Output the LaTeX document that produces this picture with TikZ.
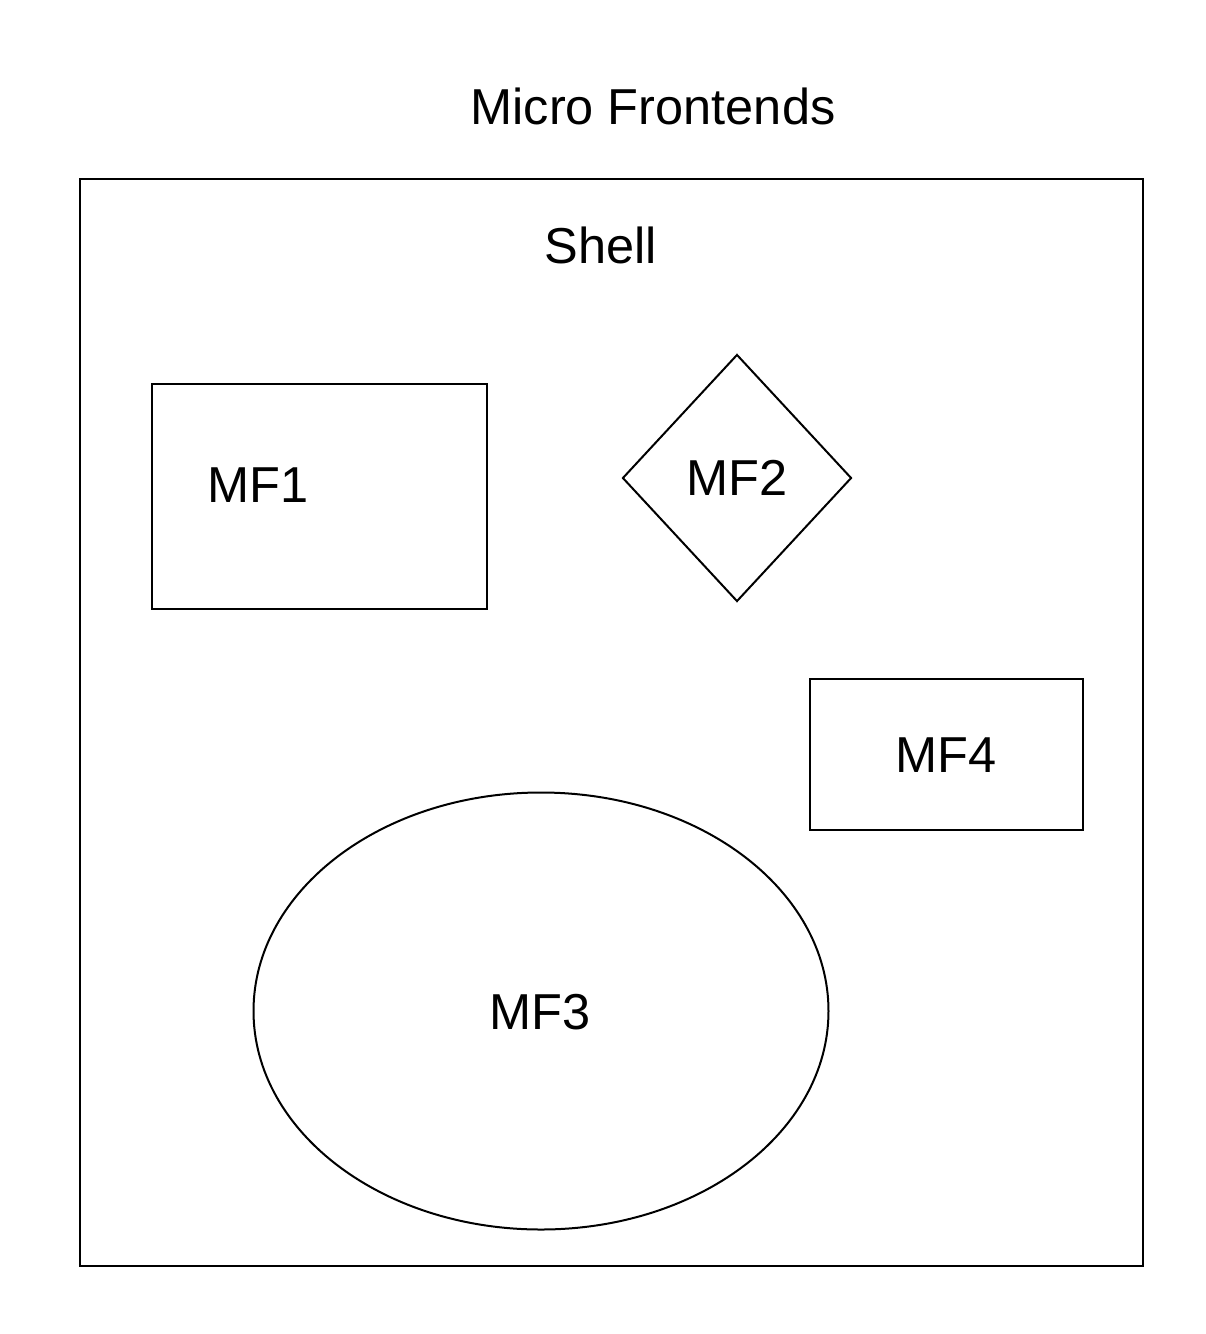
\documentclass[tikz,border=0pt]{standalone}
\usepackage{fontspec}
\setmainfont{Liberation Sans}
\usetikzlibrary{shapes.geometric}
\begin{document}
\begin{tikzpicture}[x=1pt,y=-1pt,
  shapeline/.style={draw=black,line width=2pt},
  lbl/.style={font=\fontsize{50.5}{58}\selectfont,inner sep=0pt}]
\useasboundingbox (0,0) rectangle (1206,1334);
\fill[white] (0,0) rectangle (1206,1334);
\node[lbl] (title) at (653,106) {Micro Frontends};
\node[shapeline,rectangle,minimum width=1063pt,minimum height=1087pt,inner sep=0pt] (shell) at (611.5,722.5) {};
\node[lbl] (shelltxt) at (601,245) {Shell};
\node[shapeline,rectangle,minimum width=335pt,minimum height=225pt,inner sep=0pt] (mf1) at (319.5,496.5) {};
\node[lbl] (mf1txt) at (258,485) {MF1};
\node[shapeline,diamond,minimum width=229pt,minimum height=247pt,inner sep=0pt,aspect=0.93] (mf2) at (737,478) {};
\node[lbl] (mf2txt) at (737,478) {MF2};
\node[shapeline,rectangle,minimum width=273pt,minimum height=151pt,inner sep=0pt] (mf4) at (946.5,754.5) {};
\node[lbl] (mf4txt) at (946,755) {MF4};
\node[shapeline,ellipse,minimum width=575pt,minimum height=437pt,inner sep=0pt] (mf3) at (541,1011) {};
\node[lbl] (mf3txt) at (540,1012) {MF3};
\end{tikzpicture}
\end{document}
